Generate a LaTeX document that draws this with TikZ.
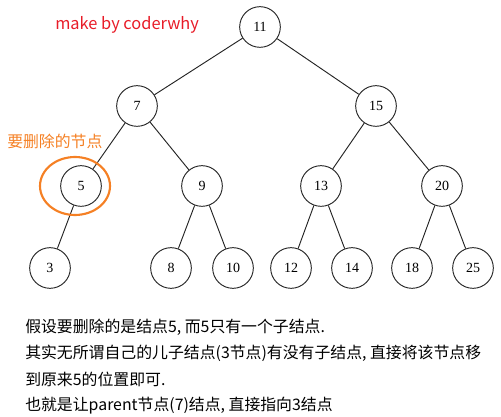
\documentclass[tikz,border=0pt]{standalone}
\usepackage{fontspec}
\setmainfont{Liberation Serif}
\newfontfamily\cjk{Noto Sans CJK SC}
\usetikzlibrary{positioning}
\definecolor{markorange}{RGB}{245,128,36}
\definecolor{signred}{RGB}{232,28,40}
\definecolor{linegray}{RGB}{35,35,35}

\begin{document}
\begin{tikzpicture}[x=0.75pt,y=-0.75pt,
    treenode/.style={circle,draw=linegray,line width=0.7pt,minimum size=30.5pt,inner sep=0pt,
      font=\fontsize{10.5pt}{12pt}\selectfont},
    edge/.style={draw=linegray,line width=0.7pt},
    note/.style={anchor=base west,inner sep=0pt,font=\cjk\fontsize{11.9pt}{14pt}\selectfont}]
    \useasboundingbox (0,0) rectangle (501,417);
    % level 0 and 1
    \node[treenode] (n11) at (260,27) {11};
    \node[treenode] (n7) at (137,106) {7};
    \node[treenode] (n15) at (376,106) {15};
    % level 2
    \node[treenode] (n5) at (81,186) {5};
    \node[treenode] (n9) at (202,186) {9};
    \node[treenode] (n13) at (321,186) {13};
    \node[treenode] (n20) at (442,186) {20};
    % leaves
    \node[treenode] (n3) at (50,268) {3};
    \node[treenode] (n8) at (171,268) {8};
    \node[treenode] (n10) at (233,268) {10};
    \node[treenode] (n12) at (291,268) {12};
    \node[treenode] (n14) at (352,268) {14};
    \node[treenode] (n18) at (412,268) {18};
    \node[treenode] (n25) at (473,268) {25};
    % connectors
    \path[edge] (n11) -- (n7);
    \path[edge] (n11) -- (n15);
    \path[edge] (n7) -- (n5);
    \path[edge] (n7) -- (n9);
    \path[edge] (n15) -- (n13);
    \path[edge] (n15) -- (n20);
    \path[edge] (n5) -- (n3);
    \path[edge] (n9) -- (n8);
    \path[edge] (n9) -- (n10);
    \path[edge] (n13) -- (n12);
    \path[edge] (n13) -- (n14);
    \path[edge] (n20) -- (n18);
    \path[edge] (n20) -- (n25);
    % mark of the node to delete
    \draw[markorange,line width=1.6pt] (75,186) ellipse [x radius=26.25pt,y radius=21.75pt];
    \node[note,text=markorange] (delete) at (7,148) {要删除的节点};
    \node[note,text=signred,font=\cjk\fontsize{12.3pt}{14pt}\selectfont] (sign) at (55,30) {make by coderwhy};
    % explanation
    \node[note] (line1) at (25,333) {假设要删除的是结点5, 而5只有一个子结点.};
    \node[note] (line2) at (25,359) {其实无所谓自己的儿子结点(3节点)有没有子结点, 直接将该节点移};
    \node[note] (line3) at (25,386) {到原来5的位置即可.};
    \node[note] (line4) at (25,411) {也就是让parent节点(7)结点, 直接指向3结点};
\end{tikzpicture}
\end{document}
